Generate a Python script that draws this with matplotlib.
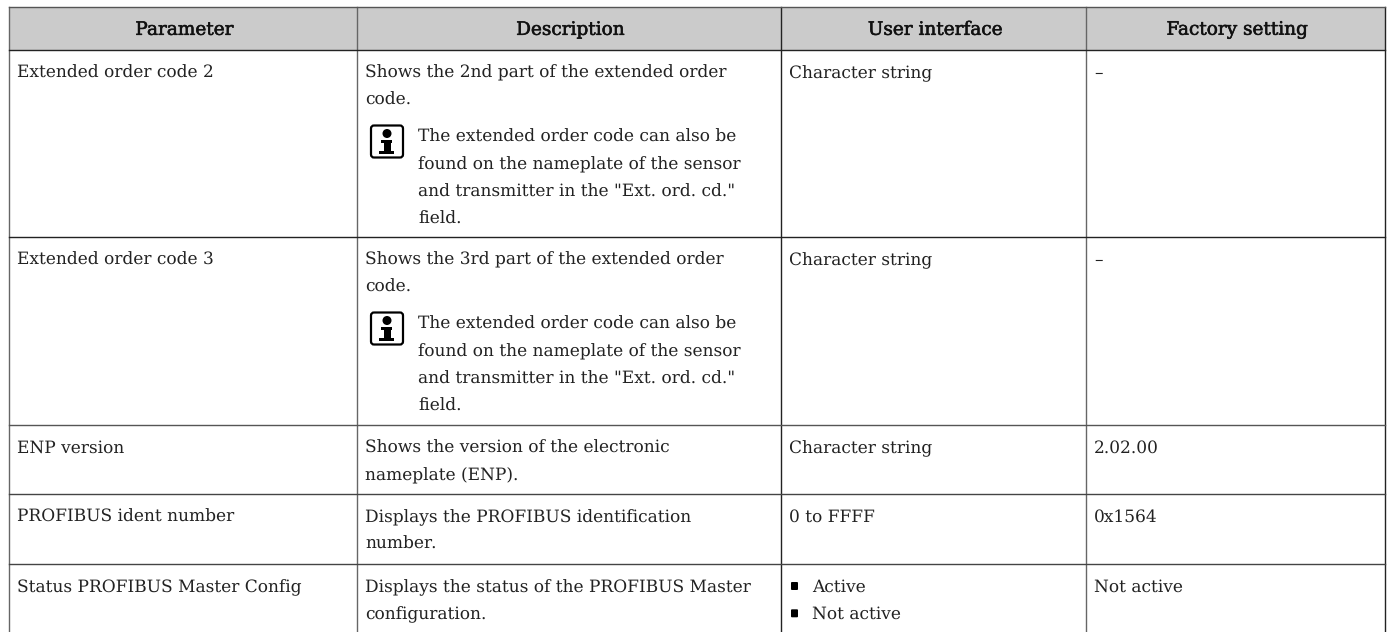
import matplotlib.pyplot as plt
import matplotlib.patheffects as pe
from matplotlib.patches import Rectangle, FancyBboxPatch, Circle

W, H = 1392, 632

headers = ['Parameter', 'Description', 'User interface', 'Factory setting']
column_edges = [9, 357, 781, 1086, 1385]
column_colors = ['#666666', '#666666', '#222222', '#666666', '#222222']
row_edges = [7, 50, 237, 425, 494, 564]
row_colors = ['#555555', '#222222', '#222222', '#555555', '#444444', '#444444']

parameters = ['Extended order code 2', 'Extended order code 3', 'ENP version',
              'PROFIBUS ident number', 'Status PROFIBUS Master Config']
descriptions = [
    ['Shows the 2nd part of the extended order', 'code.'],
    ['Shows the 3rd part of the extended order', 'code.'],
    ['Shows the version of the electronic', 'nameplate (ENP).'],
    ['Displays the PROFIBUS identification', 'number.'],
    ['Displays the status of the PROFIBUS Master', 'configuration.'],
]
note_lines = ['The extended order code can also be', 'found on the nameplate of the sensor',
              'and transmitter in the "Ext. ord. cd."', 'field.']
notes = [True, True, False, False, False]
user_interface = [['Character string'], ['Character string'], ['Character string'],
                  ['0 to FFFF'], ['Active', 'Not active']]
factory = ['\u2013', '\u2013', '2.02.00', '0x1564', 'Not active']

plt.rcParams['font.family'] = ['DejaVu Serif']
plt.rcParams['text.hinting'] = 'no_hinting'
plt.rcParams['text.hinting_factor'] = 1
FS = 12.6
LINE = 27.3

fig = plt.figure(figsize=(W / 100, H / 100), dpi=100)
ax = fig.add_axes([0, 0, 1, 1])
ax.set_xlim(0, W)
ax.set_ylim(H, 0)
ax.axis('off')

ax.add_patch(Rectangle((column_edges[0], row_edges[0]), column_edges[-1] - column_edges[0],
                       row_edges[1] - row_edges[0], color='#cbcbcb', lw=0))

# lineas de la tabla
for x, c in zip(column_edges, column_colors):
    ax.plot([x, x], [row_edges[0], H], color=c, lw=1.0)
for y, c in zip(row_edges, row_colors):
    ax.plot([column_edges[0], column_edges[-1]], [y, y], color=c, lw=1.0)

for i, h in enumerate(headers):
    xc = (column_edges[i] + column_edges[i + 1]) / 2
    t = ax.text(xc, 28, h, ha='center', va='center_baseline', fontsize=13.3, color='#111111')
    t.set_path_effects([pe.withStroke(linewidth=0.4, foreground='#111111')])


def put(x, y, s):
    ax.text(x, y, s, ha='left', va='center_baseline', fontsize=FS, color='#222222')


for r in range(5):
    top = row_edges[r + 1]
    y0 = top + 21.5
    put(column_edges[0] + 8, y0, parameters[r])
    for k, s in enumerate(descriptions[r]):
        put(column_edges[1] + 8, y0 + k * LINE, s)
    if notes[r]:
        for k, s in enumerate(note_lines):
            put(column_edges[1] + 61, top + 85.5 + k * LINE, s)
        bx, by = column_edges[1] + 14, top + 75.5
        ax.add_patch(FancyBboxPatch((bx, by), 32, 32, boxstyle='round,pad=0,rounding_size=3',
                                    fc='white', ec='black', lw=1.6))
        # letra i del icono de nota
        cx = bx + 16
        ax.add_patch(Circle((cx, by + 8), 4.5, fc='black', ec='none'))
        ax.add_patch(Rectangle((cx - 6, by + 14), 11, 3, fc='black', ec='none'))
        ax.add_patch(Rectangle((cx - 3, by + 14), 7, 12, fc='black', ec='none'))
        ax.add_patch(Rectangle((cx - 8, by + 25), 15, 3.5, fc='black', ec='none'))
    ui = user_interface[r]
    if len(ui) == 1:
        put(column_edges[2] + 8, y0, ui[0])
    else:
        for k, s in enumerate(ui):
            ax.add_patch(FancyBboxPatch((column_edges[2] + 10, y0 - 3.5 + k * LINE), 7, 8,
                                        boxstyle='round,pad=0,rounding_size=1', fc='black', ec='none'))
            put(column_edges[2] + 31, y0 + k * LINE, s)
    put(column_edges[3] + 8, y0, factory[r])

fig.savefig('out.png', dpi=100)
